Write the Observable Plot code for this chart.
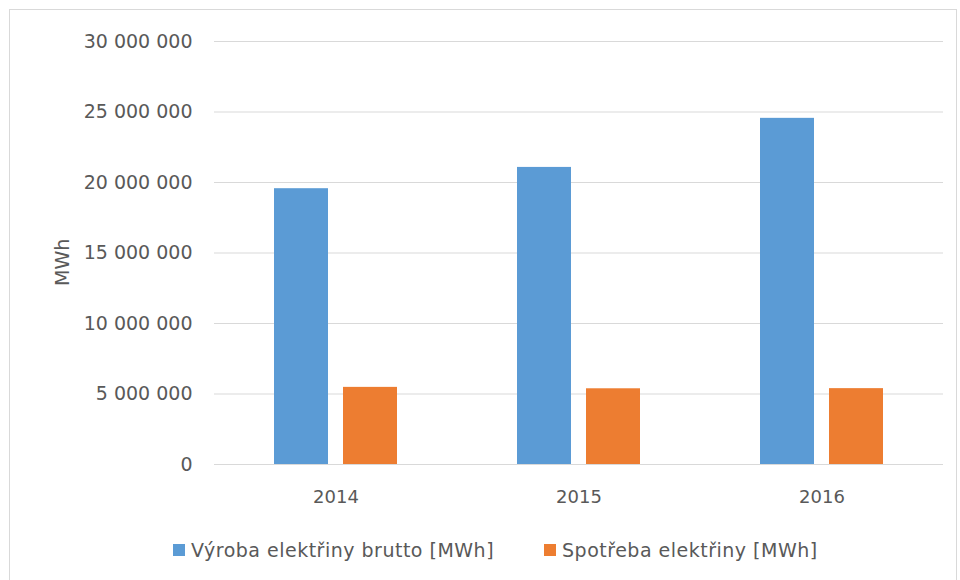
<!DOCTYPE html>
<html>
<head>
<meta charset="utf-8">
<script src="https://cdn.jsdelivr.net/npm/d3@7"></script>
<script src="https://cdn.jsdelivr.net/npm/@observablehq/plot@0.6"></script>
<style>
  body { margin: 0; background: #fff; font-family: "DejaVu Sans", sans-serif; }
  #frame { position: absolute; left: 9px; top: 9px; width: 948px; height: 580px; border: 1px solid #d9d9d9; box-sizing: border-box; }
  #chart { position: absolute; left: 0; top: 0; }
  #legend { position: absolute; top: 539px; left: 173px; display: flex; gap: 50px; font-size: 19px; letter-spacing: 0.5px; color: #595959; white-space: nowrap; }
  #legend span.item { display: flex; align-items: center; }
  #legend span.sw { width: 12px; height: 12px; display: inline-block; margin-right: 6px; }
</style>
</head>
<body>
<div id="frame"></div>
<div id="chart"></div>
<div id="legend"></div>
<script>
const years = ["2014", "2015", "2016"];
const seriesNames = ["Výroba elektřiny brutto [MWh]", "Spotřeba elektřiny [MWh]"];
const vyroba = [19560000, 21070000, 24550000];
const spotreba = [5470000, 5370000, 5380000];
const colors = ["#5B9BD5", "#ED7D31"];
const yTicks = [0, 5000000, 10000000, 15000000, 20000000, 25000000, 30000000];

const data = [];
years.forEach((yr, i) => {
  data.push({year: yr, series: seriesNames[0], value: vyroba[i]});
  data.push({year: yr, series: seriesNames[1], value: spotreba[i]});
});

const fmt = d => d3.format(",")(d).replace(/,/g, " ");

const chart = Plot.plot({
  width: 960,
  height: 520,
  marginTop: 41,
  marginBottom: 56,
  marginLeft: 214,
  marginRight: 17,
  style: {fontFamily: "DejaVu Sans, sans-serif", fontSize: "18px", color: "#595959", background: "transparent"},
  fx: {domain: years, padding: 0},
  x: {domain: seriesNames, paddingInner: 0.22, paddingOuter: 0.87, axis: null},
  y: {domain: [0, 30000000]},
  color: {domain: seriesNames, range: colors},
  marks: [
    Plot.gridY(yTicks, {stroke: "#d9d9d9", strokeOpacity: 1, strokeWidth: 1}),
    Plot.axisY(yTicks, {tickFormat: fmt, tickSize: 0, tickPadding: 22, fontSize: 19, label: null, fill: "#595959"}),
    Plot.axisFx({anchor: "bottom", tickSize: 0, tickPadding: 26, fontSize: 18, label: null, fill: "#595959"}),
    Plot.barY(data, {fx: "year", x: "series", y: "value", fill: "series"}),
    Plot.text(["MWh"], {facet: "super", frameAnchor: "left", dx: -152, dy: 33, rotate: -90, fontSize: 19, fill: "#595959"})
  ]
});
document.getElementById("chart").appendChild(chart);

const legend = document.getElementById("legend");
seriesNames.forEach((s, i) => {
  const item = document.createElement("span");
  item.className = "item";
  const sw = document.createElement("span");
  sw.className = "sw";
  sw.style.background = colors[i];
  item.appendChild(sw);
  item.appendChild(document.createTextNode(s));
  legend.appendChild(item);
});
</script>
</body>
</html>
